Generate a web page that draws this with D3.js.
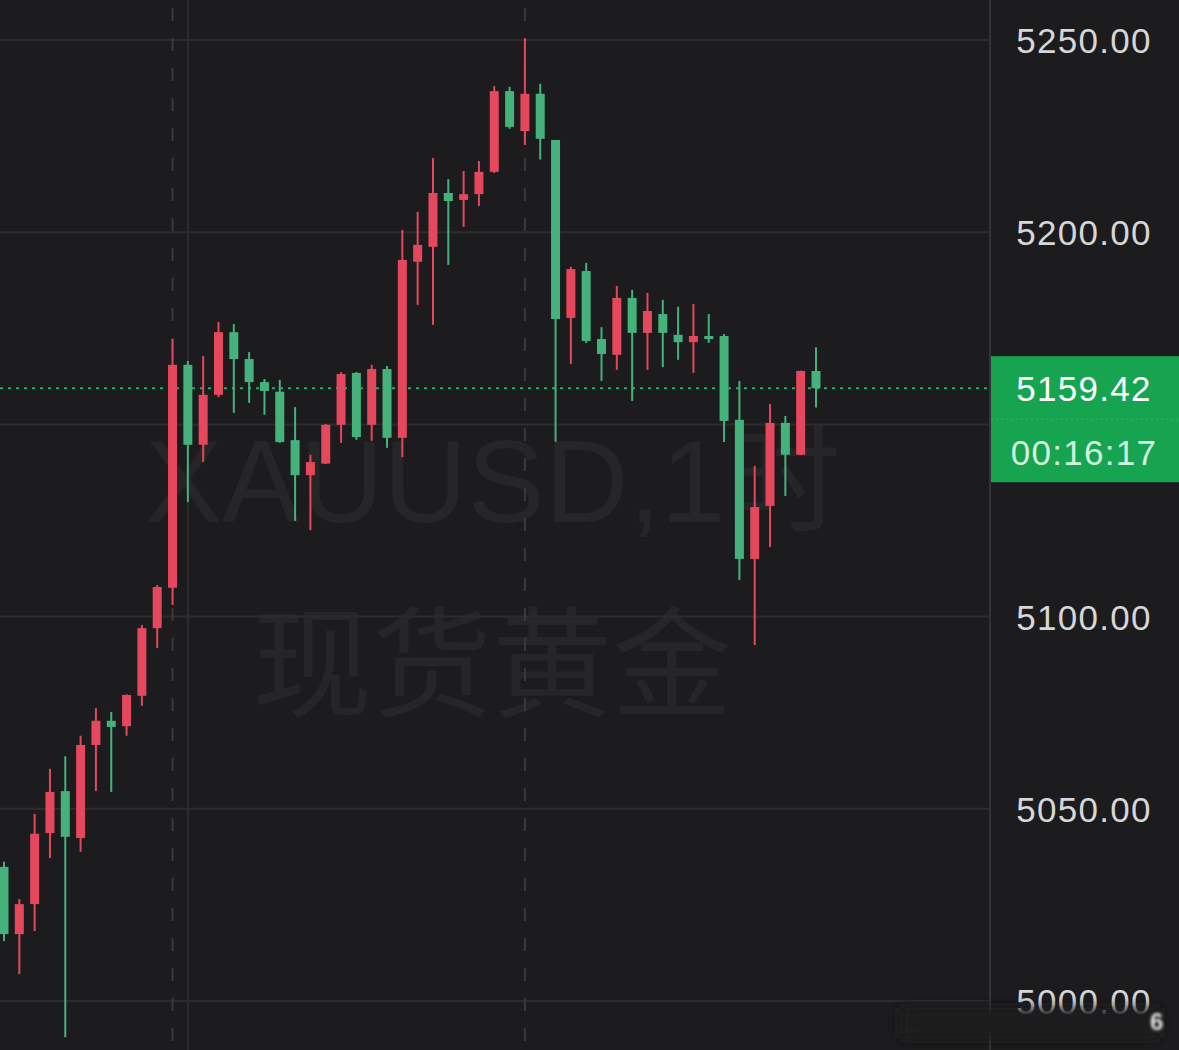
<!DOCTYPE html>
<html>
<head>
<meta charset="utf-8">
<script src="https://cdn.jsdelivr.net/npm/d3@7"></script>
<style>
  html, body { margin: 0; padding: 0; background: #1c1c1e; }
  svg { display: block; }
</style>
</head>
<body>
<div class="Canvas"></div>
<script>
// hourly candles, oldest first
const opens  = [5034.9, 5017.4, 5025.2, 5043.7, 5054.6, 5042.4, 5066.6, 5072.9, 5071.5, 5079.4,
                5097.0, 5107.5, 5165.5, 5144.7, 5157.7, 5174.0, 5167.0, 5161.0, 5158.5, 5145.9,
                5136.8, 5139.8, 5149.9, 5163.4, 5149.9, 5164.4, 5146.5, 5192.3, 5196.2, 5210.2,
                5208.4, 5209.9, 5215.7, 5236.7, 5226.3, 5236.0, 5224.0, 5177.7, 5189.9, 5172.2,
                5168.1, 5182.9, 5173.8, 5178.7, 5173.3, 5171.4, 5173.0, 5173.0, 5151.2, 5115.0,
                5128.8, 5150.4, 5142.1, 5163.9];
const highs  = [5036.2, 5026.5, 5048.7, 5060.4, 5063.7, 5069.0, 5076.2, 5075.2, 5079.8, 5097.8,
                5108.2, 5172.2, 5166.5, 5167.8, 5176.6, 5176.1, 5168.8, 5161.8, 5161.6, 5154.5,
                5142.1, 5150.1, 5163.6, 5163.6, 5165.5, 5165.2, 5200.6, 5205.3, 5219.3, 5213.8,
                5215.9, 5218.5, 5238.0, 5237.8, 5250.5, 5238.6, 5224.0, 5191.0, 5192.0, 5175.3,
                5186.0, 5185.0, 5184.2, 5182.4, 5180.6, 5181.3, 5178.7, 5173.5, 5161.3, 5139.2,
                5155.3, 5152.2, 5164.0, 5170.1];
const lows   = [5015.6, 5007.0, 5018.2, 5037.2, 4990.6, 5038.8, 5054.6, 5054.4, 5069.0, 5076.8,
                5091.8, 5103.0, 5129.8, 5140.2, 5157.1, 5153.0, 5155.6, 5152.5, 5145.2, 5124.9,
                5122.5, 5139.7, 5145.2, 5146.0, 5145.7, 5143.9, 5141.5, 5181.1, 5175.9, 5191.5,
                5201.4, 5206.8, 5215.4, 5226.9, 5222.7, 5218.9, 5145.5, 5165.7, 5171.2, 5161.3,
                5164.2, 5156.1, 5164.2, 5164.9, 5166.8, 5163.4, 5171.2, 5145.4, 5109.5, 5092.6,
                5118.1, 5131.4, 5142.0, 5154.4];
const closes = [5017.4, 5025.2, 5043.5, 5054.4, 5042.7, 5066.6, 5072.9, 5071.3, 5079.6, 5097.0,
                5107.7, 5165.5, 5144.7, 5157.7, 5174.0, 5167.0, 5161.0, 5158.7, 5145.4, 5136.8,
                5140.2, 5149.9, 5163.1, 5146.7, 5164.4, 5146.5, 5192.8, 5196.7, 5210.2, 5208.1,
                5209.9, 5215.7, 5236.7, 5227.4, 5236.0, 5224.3, 5177.4, 5190.4, 5171.7, 5168.3,
                5182.9, 5173.8, 5179.5, 5173.8, 5171.4, 5173.0, 5172.2, 5150.9, 5115.0, 5128.5,
                5150.4, 5142.1, 5163.9, 5159.42];

const gridValues = [5000, 5050, 5100, 5150, 5200, 5250];
const tickValues = [5000, 5050, 5100, 5200, 5250];
const sessionBreaks = [11, 34];   // dashed separators at these candles
const lastPrice = 5159.42;
const countdown = '00:16:17';
const symbolText = 'XAUUSD,1时';
const nameText = '现货黄金';

const width = 1179;
const height = 1050;
const axisX = 990;
const bodyWidth = 9;
const wickWidth = 2;

const upColor = '#e5475c';
const downColor = '#45b27b';
const labelGreen = '#17a451';
const gridColor = '#2c2c2e';

const candles = opens.map((o, i) => ({ i: i, o: o, h: highs[i], l: lows[i], c: closes[i] }));

const x = d3.scaleLinear().domain([0, candles.length - 1]).range([4, 816]);
const y = d3.scaleLinear().domain([5000, 5250]).range([1001, 40]);

const svg = d3.select('.Canvas').append('svg').attr('width', width).attr('height', height);
svg.append('rect').attr('width', width).attr('height', height).attr('fill', '#1c1c1e');

const defs = svg.append('defs');
defs.append('filter').attr('id', 'blur')
  .attr('filterUnits', 'userSpaceOnUse')
  .attr('x', 850).attr('y', 960).attr('width', 329).attr('height', 90)
  .append('feGaussianBlur').attr('stdDeviation', 6);
defs.append('filter').attr('id', 'softblur')
  .attr('filterUnits', 'userSpaceOnUse')
  .attr('x', 1120).attr('y', 990).attr('width', 59).attr('height', 60)
  .append('feGaussianBlur').attr('stdDeviation', 1.5);

// watermark
svg.append('text')
  .attr('x', 145).attr('y', 522)
  .attr('font-family', 'Liberation Sans, Arial, Noto Sans CJK SC, sans-serif')
  .attr('font-size', '116px')
  .attr('fill', '#262628')
  .text(symbolText);
svg.append('text')
  .attr('x', 252).attr('y', 708)
  .attr('font-family', 'Noto Sans CJK SC, sans-serif')
  .attr('font-size', '120px')
  .attr('fill', '#262628')
  .text(nameText);

// horizontal grid
svg.append('g').selectAll('line').data(gridValues).enter().append('line')
  .attr('x1', 0).attr('x2', axisX)
  .attr('y1', (d) => y(d)).attr('y2', (d) => y(d))
  .attr('stroke', gridColor).attr('stroke-width', 2);

// vertical grid + session breaks
svg.append('line').attr('x1', 188).attr('x2', 188).attr('y1', 0).attr('y2', height)
  .attr('stroke', gridColor).attr('stroke-width', 2);
svg.append('g').selectAll('line').data(sessionBreaks).enter().append('line')
  .attr('x1', (d) => x(d)).attr('x2', (d) => x(d))
  .attr('y1', 8).attr('y2', height)
  .attr('stroke', '#3a3a3c').attr('stroke-width', 2)
  .attr('stroke-dasharray', '13,17');

// axis separator
svg.append('line').attr('x1', axisX).attr('x2', axisX).attr('y1', 0).attr('y2', height)
  .attr('stroke', '#333335').attr('stroke-width', 2);

// last price dotted line
svg.append('line')
  .attr('x1', 0).attr('x2', axisX)
  .attr('y1', y(lastPrice)).attr('y2', y(lastPrice))
  .attr('stroke', '#1fae5c').attr('stroke-width', 2)
  .attr('stroke-dasharray', '3,5');

// candles
const color = (d) => (d.c >= d.o ? upColor : downColor);
const g = svg.append('g');
g.selectAll('line.wick').data(candles).enter().append('line')
  .attr('class', 'wick')
  .attr('x1', (d) => x(d.i)).attr('x2', (d) => x(d.i))
  .attr('y1', (d) => y(d.h)).attr('y2', (d) => y(d.l))
  .attr('stroke', color).attr('stroke-width', wickWidth);
g.selectAll('rect.body').data(candles).enter().append('rect')
  .attr('class', 'body')
  .attr('x', (d) => x(d.i) - bodyWidth / 2)
  .attr('width', bodyWidth)
  .attr('y', (d) => y(Math.max(d.o, d.c)))
  .attr('height', (d) => Math.max(2, Math.abs(y(d.o) - y(d.c))))
  .attr('fill', color);

// price axis
const axis = d3.axisRight(y).tickValues(tickValues).tickSize(0).tickFormat(d3.format('.2f'));
const axisG = svg.append('g').attr('transform', `translate(1084,0)`).call(axis);
axisG.select('.domain').remove();
axisG.selectAll('text')
  .attr('x', 0)
  .attr('dy', '0.36em')
  .attr('text-anchor', 'middle')
  .attr('fill', '#d6d6d8')
  .attr('font-family', 'Liberation Sans, Arial, sans-serif')
  .attr('font-size', '35px')
  .attr('letter-spacing', '1.3px');

// last price label
const ly = y(lastPrice);
svg.append('rect').attr('x', axisX + 1).attr('y', ly - 32).attr('width', width - axisX).attr('height', 126)
  .attr('fill', labelGreen);
svg.append('line').attr('x1', axisX + 1).attr('x2', width).attr('y1', ly + 31).attr('y2', ly + 31)
  .attr('stroke', '#2fb565').attr('stroke-width', 1).attr('stroke-dasharray', '2,3');
svg.append('text').attr('x', 1084).attr('y', ly).attr('dy', '0.36em')
  .attr('text-anchor', 'middle').attr('fill', '#ffffff')
  .attr('font-family', 'Liberation Sans, Arial, sans-serif').attr('font-size', '35px').attr('letter-spacing', '1.3px')
  .text(lastPrice.toFixed(2));
svg.append('text').attr('x', 1084).attr('y', ly + 64).attr('dy', '0.36em')
  .attr('text-anchor', 'middle').attr('fill', '#d4f0df')
  .attr('font-family', 'Liberation Sans, Arial, sans-serif').attr('font-size', '35px').attr('letter-spacing', '1.3px')
  .text(countdown);

// blurred corner stamp over the lowest label
svg.append('rect').attr('x', 900).attr('y', 1008).attr('width', 260).attr('height', 30)
  .attr('fill', '#1c1c1e').attr('filter', 'url(#blur)');
svg.append('rect').attr('x', 920).attr('y', 1014).attr('width', 230).attr('height', 18)
  .attr('fill', '#1c1c1e');
svg.append('text').attr('x', 1150).attr('y', 1030)
  .attr('font-family', 'Liberation Sans, Arial, sans-serif').attr('font-size', '24px').attr('font-weight', 'bold')
  .attr('fill', '#e6e6e6').attr('filter', 'url(#softblur)')
  .text('6');
</script>
</body>
</html>
